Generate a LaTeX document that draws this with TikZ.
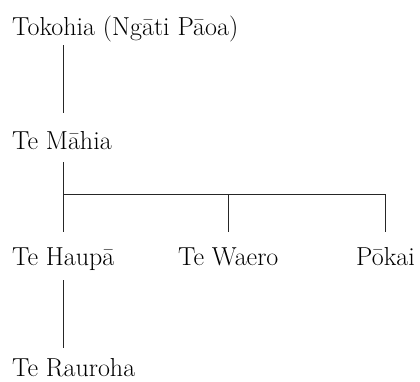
\documentclass[tikz,border=0pt]{standalone}
\usepackage{fontspec}
\usetikzlibrary{calc}
\begin{document}
\begin{tikzpicture}[x=1pt,y=-1pt,
        person/.style={anchor=base west,inner sep=0pt,font=\fontsize{26}{31}\selectfont},
        link/.style={line width=1pt,black!85}]
        \def\drop{33}
        \useasboundingbox (0,0) rectangle (420,381);
        %% people
        \node[person] (tokohia) at (12,35) {Tokohia (Ngāti Pāoa)};
        \node[person] (mahia) at (12,149) {Te Māhia};
        \node[person] (haupa) at (12,265) {Te Haupā};
        \node[person] (waero) at (178,265) {Te Waero};
        \node[person] (pokai) at (356,265) {Pōkai};
        \node[person] (rauroha) at (12,376) {Te Rauroha};
        %% descent lines
        \foreach \from/\to/\a/\b in {tokohia/mahia/10/36,mahia/haupa/13/\drop,haupa/rauroha/15/28}
            \draw[link] ($(\from.base -| haupa.base)+(0,\a)$) -- ($(\to.base -| haupa.base)+(0,-\b)$);
        %% siblings
        \coordinate (bar) at ($(mahia.base)+(0,45)$);
        \draw[link] (haupa.base |- bar) -| ($(pokai.base)+(0,-\drop)$);
        \draw[link] (waero.base |- bar) -- ($(waero.base)+(0,-\drop)$);
    \end{tikzpicture}
\end{document}
